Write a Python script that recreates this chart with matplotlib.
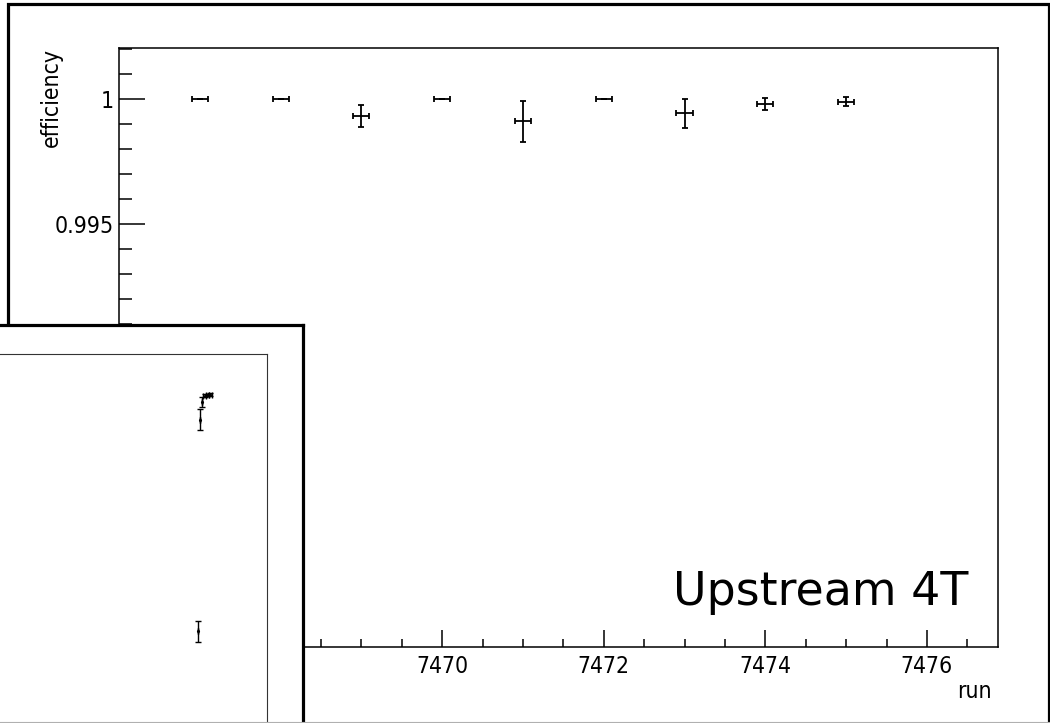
import matplotlib
matplotlib.use("Agg")
import matplotlib.pyplot as plt
from matplotlib import font_manager as fm
from matplotlib.lines import Line2D
from matplotlib.ticker import FixedLocator, MultipleLocator

# ---- efficiency per run, upstream tracker at 4 T ----
runs = [7467, 7468, 7469, 7470, 7471, 7472, 7473, 7474, 7475]
run_halfwidth = [0.1, 0.1, 0.1, 0.1, 0.1, 0.1, 0.1, 0.1, 0.1]
efficiency = [1.0, 1.0, 0.99931, 1.0, 0.99911, 1.0, 0.99943, 0.9998, 0.99989]
efficiency_err = [0.0, 0.0, 0.00043, 0.0, 0.00082, 0.0, 0.00058, 0.00024, 0.00017]

x_ticks = [7466, 7468, 7470, 7472, 7474, 7476]
x_tick_labels = ["7466", "7468", "7470", "7472", "7474", "7476"]
y_ticks = [0.98, 0.985, 0.99, 0.995, 1.0]
y_tick_labels = ["0.98", "0.985", "0.99", "0.995", "1"]
x_range = (7466.0, 7476.88)
y_range = (0.97805, 1.00204)

# ---- overlapping canvas (earlier runs) ----
inset_runs = [7449.0, 7450.2, 7451.2, 7453.0, 7454.6, 7456.2]
inset_halfwidth = [0.0, 0.0, 0.0, 0.9, 0.9, 0.9]
inset_eff = [0.8650, 0.9719, 0.9808, 0.9840, 0.9843, 0.9845]
inset_err = [0.0053, 0.0053, 0.0025, 0.0006, 0.0006, 0.0006]
inset_x_range = (7300.0, 7490.0)
inset_y_range = (0.800, 1.005)

W, H = 1050, 723


def fx(px):
    return px / W


def fy(py):
    return 1 - py / H


def condensed_font():
    for f in fm.fontManager.ttflist:
        if f.name == "DejaVu Sans" and f.stretch == "condensed" and f.style == "normal" \
                and f.weight in (400, "normal", "regular"):
            return fm.FontProperties(fname=f.fname), 16.5
    for f in fm.fontManager.ttflist:
        if f.name == "Liberation Sans Narrow" and f.style == "normal" \
                and f.weight in (400, "normal", "regular"):
            return fm.FontProperties(fname=f.fname), 18.5
    return fm.FontProperties(family="DejaVu Sans", stretch="condensed"), 15.0


label_font, label_size = condensed_font()

fig = plt.figure(figsize=(W / 100, H / 100), dpi=100)
fig.patch.set_facecolor("white")

# ---- main pad ----
ax = fig.add_axes([fx(119), fy(647), (998 - 119) / W, (647 - 48) / H])
ax.errorbar(runs, efficiency, xerr=run_halfwidth, yerr=efficiency_err,
            fmt="none", ecolor="black", elinewidth=1.3, capsize=2.3, capthick=1.3)
ax.set_xlim(*x_range)
ax.set_ylim(*y_range)

ax.xaxis.set_major_locator(FixedLocator(x_ticks))
ax.set_xticklabels(x_tick_labels)
ax.xaxis.set_minor_locator(MultipleLocator(0.5))
ax.yaxis.set_major_locator(FixedLocator(y_ticks))
ax.set_yticklabels(y_tick_labels)
ax.yaxis.set_minor_locator(MultipleLocator(0.001))

ax.tick_params(axis="both", which="both", direction="in", color="black",
               top=False, right=False, width=1.1)
ax.tick_params(axis="x", which="major", length=12.2, pad=5.5)
ax.tick_params(axis="x", which="minor", length=6.1)
ax.tick_params(axis="y", which="major", length=18.7, pad=3.6)
ax.tick_params(axis="y", which="minor", length=9.4)
for lab in ax.get_xticklabels() + ax.get_yticklabels():
    lab.set_fontproperties(label_font)
    lab.set_fontsize(label_size)
for sp in ax.spines.values():
    sp.set_linewidth(1.1)
    sp.set_color("black")

ax.set_ylabel("efficiency", loc="top", fontproperties=label_font, fontsize=label_size)
ax.yaxis.set_label_coords(-56 / 879, 1.0)
ax.set_xlabel("run", loc="right", fontproperties=label_font, fontsize=label_size)
ax.xaxis.set_label_coords(1 - 6 / 879, -33 / 599)
ax.xaxis.label.set_verticalalignment("top")

ax.text((968 - 119) / 879, (647 - 605) / 599, "Upstream 4T", transform=ax.transAxes,
        ha="right", va="baseline", fontsize=33, family="DejaVu Sans", color="black")

# thick border of the main canvas
fig.add_artist(plt.Rectangle((fx(7.5), fy(740)), (1048.5 - 7.5) / W, (740 - 4) / H,
                             fill=False, ec="black", lw=2.3,
                             transform=fig.transFigure, zorder=3))

# ---- overlapping canvas at lower left ----
bg = fig.add_axes([fx(-30), fy(760), (303 + 30) / W, (760 - 324.5) / H], zorder=5)
bg.set_facecolor("white")
bg.set_xticks([])
bg.set_yticks([])
for sp in bg.spines.values():
    sp.set_linewidth(2.3)
    sp.set_color("black")

ins = fig.add_axes([fx(-50), fy(760), (266.5 + 50) / W, (760 - 354) / H], zorder=6)
ins.set_facecolor("white")
ins.errorbar(inset_runs, inset_eff, xerr=inset_halfwidth, yerr=inset_err,
             fmt=".", color="black", markersize=2.5, ecolor="black",
             elinewidth=1.0, capsize=2.3, capthick=1.0)
ins.set_xlim(*inset_x_range)
ins.set_ylim(*inset_y_range)
ins.set_xticks([])
ins.set_yticks([])
for sp in ins.spines.values():
    sp.set_linewidth(0.8)
    sp.set_color("#333333")

# light edge line along the bottom
fig.add_artist(Line2D([0, 1], [fy(721.5), fy(721.5)], color="#b0b0b0", lw=0.8,
                      transform=fig.transFigure, zorder=10))

fig.savefig("out.png", dpi=100, facecolor="white")
